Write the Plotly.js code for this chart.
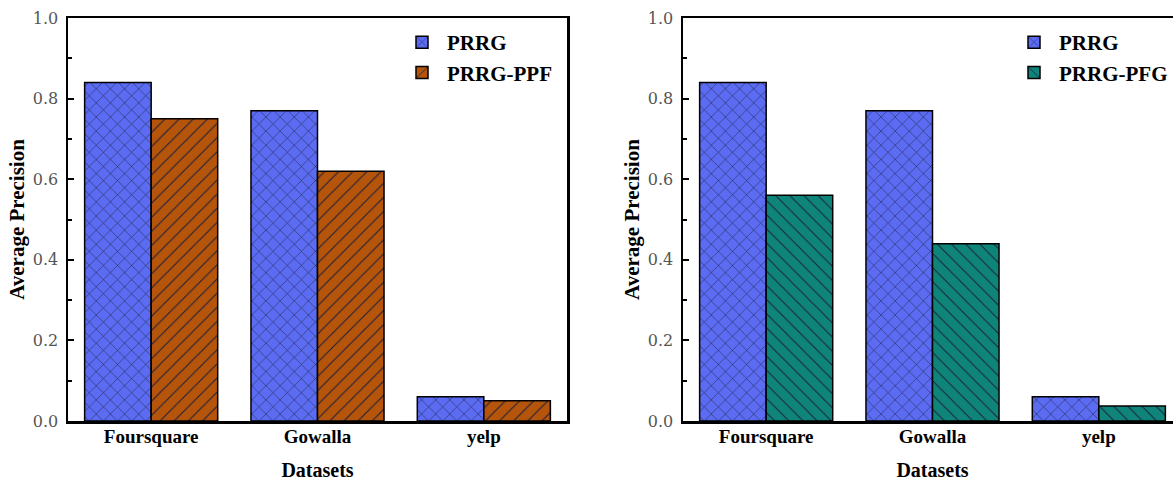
<!DOCTYPE html>
<html>
<head>
<meta charset="utf-8">
<script src="https://cdn.plot.ly/plotly-3.0.1.min.js"></script>
<style>
html,body{margin:0;padding:0;overflow:hidden;background:#fff;width:1173px;height:481px;}
#chart{width:1200px;height:481px;}
</style>
</head>
<body>
<div id="chart"></div>
<script>
// Data
var categories = ["Foursquare", "Gowalla", "yelp"];
var prrgLeft = [0.84, 0.77, 0.06];
var prrgPPF = [0.75, 0.62, 0.05];
var prrgRight = [0.84, 0.77, 0.06];
var prrgPFG = [0.56, 0.44, 0.037];
var yTickVals = [0, 0.2, 0.4, 0.6, 0.8, 1.0];
var yTickText = ["0.0", "0.2", "0.4", "0.6", "0.8", "1.0"];

var serif = "Liberation Serif";
var tickSerif = "DejaVu Serif";
var lineBlack = {color: "#000", width: 1.5};

function bar(name, x, y, xa, ya, color, shape, legend, showlegend) {
  return {
    type: "bar", name: name, x: x, y: y, xaxis: xa, yaxis: ya,
    legend: legend, showlegend: showlegend, width: 0.4,
    marker: {
      color: color, line: lineBlack,
      pattern: {shape: shape, bgcolor: color, fgcolor: "#1b1f3a", size: 10, solidity: 0.1, fillmode: "replace"}
    },
    hoverinfo: "x+y"
  };
}

var data = [
  bar("PRRG", categories, prrgLeft, "x", "y", "#5B6CF3", "x", "legend", true),
  bar("PRRG-PPF", categories, prrgPPF, "x", "y", "#B5540B", "/", "legend", true),
  bar("PRRG", categories, prrgRight, "x2", "y2", "#5B6CF3", "x", "legend2", true),
  bar("PRRG-PFG", categories, prrgPFG, "x2", "y2", "#0F857A", "\\", "legend2", true)
];

function xaxis(domain, anchor) {
  return {
    domain: domain, anchor: anchor, range: [-0.5, 2.5], type: "category",
    showline: true, linecolor: "#000", linewidth: 2.5, mirror: true,
    ticks: "", showgrid: false, zeroline: false,
    tickfont: {family: serif, size: 19, color: "#000", weight: "bold"},
    ticklabelstandoff: -3,
    title: {text: "<b>Datasets</b>", font: {family: serif, size: 20, color: "#000"}, standoff: 17}
  };
}
function yaxis(anchor) {
  return {
    anchor: anchor, range: [0, 1], tickvals: yTickVals, ticktext: yTickText,
    showline: true, linecolor: "#000", linewidth: 2.5, mirror: true,
    ticks: "inside", ticklen: 6, tickwidth: 2, tickcolor: "#000",
    minor: {ticks: "inside", ticklen: 4, tickwidth: 2, tickcolor: "#000", dtick: 0.1},
    showgrid: false, zeroline: false,
    tickfont: {family: tickSerif, size: 16, color: "#555"},
    ticklabelstandoff: 4,
    title: {text: "<b>Average Precision</b>", font: {family: serif, size: 21, color: "#000"}, standoff: 3}
  };
}

var W = 1200, L = 68, R = 18;
var pw = W - L - R;
var d1 = [0, 499 / pw];
var d2 = [(683 - L) / pw, 1];

var layout = {
  width: W, height: 481,
  margin: {l: L, r: R, t: 18, b: 60},
  paper_bgcolor: "#fff", plot_bgcolor: "#fff",
  barmode: "group", bargap: 0.2, bargroupgap: 0,
  font: {family: serif},
  xaxis: xaxis(d1, "y"),
  yaxis: yaxis("x"),
  xaxis2: xaxis(d2, "y2"),
  yaxis2: yaxis("x2"),
  legend: {x: (397 - L) / pw, y: 0.99, xanchor: "left", yanchor: "top", bgcolor: "rgba(0,0,0,0)",
    font: {family: serif, size: 21, color: "#000", weight: "bold"}, tracegroupgap: 0, itemwidth: 40},
  legend2: {x: (1009 - L) / pw, y: 0.99, xanchor: "left", yanchor: "top", bgcolor: "rgba(0,0,0,0)",
    font: {family: serif, size: 21, color: "#000", weight: "bold"}, tracegroupgap: 0, itemwidth: 40},
  showlegend: true
};

Plotly.newPlot("chart", data, layout, {displayModeBar: false, staticPlot: true});
</script>
</body>
</html>
